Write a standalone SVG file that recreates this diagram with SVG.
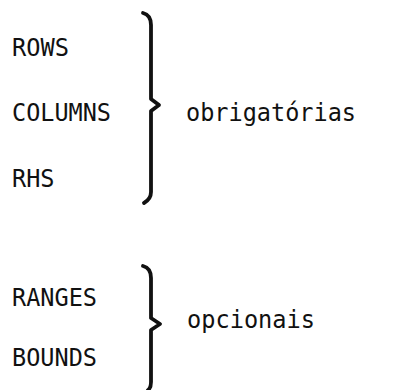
<svg xmlns="http://www.w3.org/2000/svg" width="397" height="390" viewBox="0 0 397 390">
  <style>
    .lbl { font-family: "DejaVu Sans Mono", "Liberation Mono", monospace; font-size: 25.5px; fill: #111; }
    .brace { fill: none; stroke: #111; stroke-width: 3.8; stroke-linecap: round; stroke-linejoin: round; }
  </style>
  <rect width="397" height="390" fill="#fff"/>

  <!-- required sections -->
  <g id="required">
    <text class="lbl" x="12" y="56" textLength="57" lengthAdjust="spacingAndGlyphs">ROWS</text>
    <text class="lbl" x="12" y="121" textLength="99" lengthAdjust="spacingAndGlyphs">COLUMNS</text>
    <text class="lbl" x="12" y="187" textLength="42.5" lengthAdjust="spacingAndGlyphs">RHS</text>
    <path class="brace" d="M143,13 Q151,15 151,25 L151,99 L159,105 L151,111 L151,192 Q151,199 144,203"/>
    <text class="lbl" x="186" y="121" textLength="170" lengthAdjust="spacingAndGlyphs">obrigatórias</text>
  </g>

  <!-- optional sections -->
  <g id="optional">
    <text class="lbl" x="12" y="306" textLength="85" lengthAdjust="spacingAndGlyphs">RANGES</text>
    <text class="lbl" x="12" y="366" textLength="85" lengthAdjust="spacingAndGlyphs">BOUNDS</text>
    <path class="brace" d="M143,266 Q151,268 151,278 L151,318 L160,324 L151,330 L151,382 Q151,388 148,390"/>
    <text class="lbl" x="187" y="328" textLength="128" lengthAdjust="spacingAndGlyphs">opcionais</text>
  </g>
</svg>
